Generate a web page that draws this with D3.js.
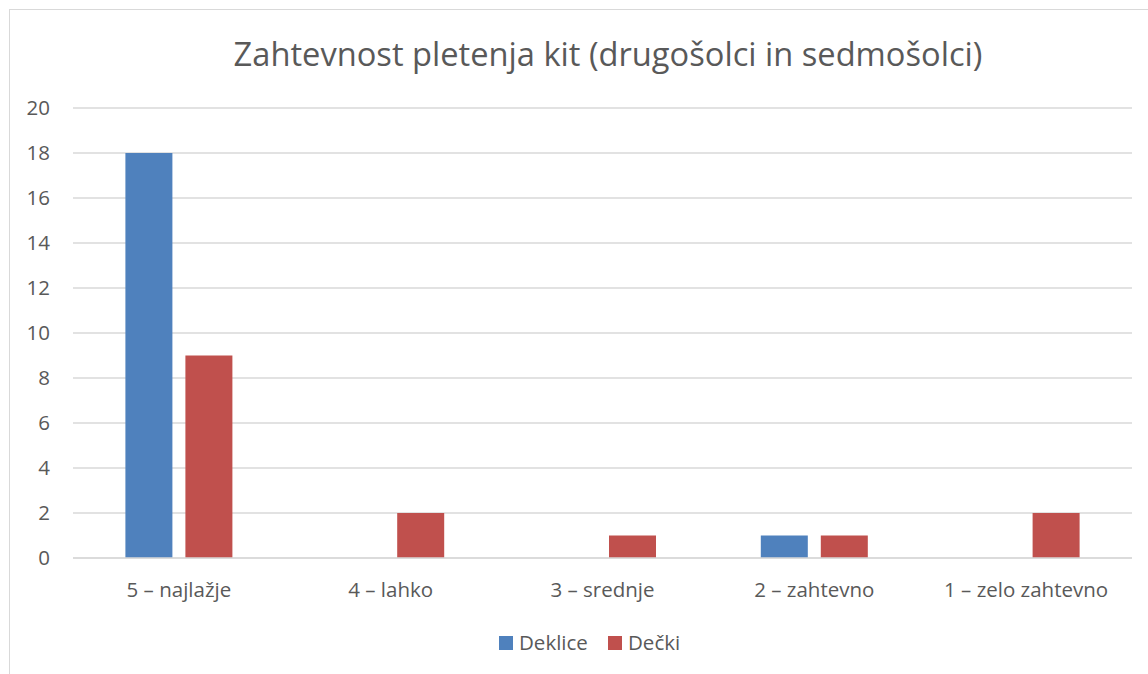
<!DOCTYPE html>
<html>
<head>
<meta charset="utf-8">
<script src="https://cdn.jsdelivr.net/npm/d3@7"></script>
<style>
  body { margin: 0; background: #fff; }
  svg { display: block; font-family: "Open Sans", "Noto Sans", sans-serif; }
</style>
</head>
<body>
<svg id="chart" width="1148" height="674"></svg>
<script>
// chart data
var categories = ['5 – najlažje', '4 – lahko', '3 – srednje', '2 – zahtevno', '1 – zelo zahtevno'];
var seriesNames = ['Deklice', 'Dečki'];
var deklice = [18, 0, 0, 1, 0];
var decki = [9, 2, 1, 1, 2];
var yTicks = [0, 2, 4, 6, 8, 10, 12, 14, 16, 18, 20];

var colors = ['#4F81BD', '#C0504D'];
var textColor = '#595959';
var labelSize = '20.5px';

var svg = d3.select('#chart');

// outer chart border
svg.append('rect')
    .attr('x', 9.5).attr('y', 9.5)
    .attr('width', 1160).attr('height', 700)
    .attr('fill', 'none')
    .attr('stroke', '#D9D9D9');

var margin = { left: 73, right: 1132, top: 108, bottom: 558 };

var x = d3.scaleBand()
    .domain(categories)
    .range([margin.left, margin.right]);

var y = d3.scaleLinear()
    .domain([0, 20])
    .range([margin.bottom, margin.top]);

// gridlines
svg.append('g')
    .selectAll('line')
    .data(yTicks)
    .enter()
    .append('line')
    .attr('x1', margin.left)
    .attr('x2', margin.right)
    .attr('y1', function (d) { return y(d); })
    .attr('y2', function (d) { return y(d); })
    .attr('stroke', '#D9D9D9')
    .attr('stroke-width', 1.5);

// y tick labels
svg.append('g')
    .selectAll('text')
    .data(yTicks)
    .enter()
    .append('text')
    .attr('x', 50)
    .attr('y', function (d) { return y(d); })
    .attr('dy', '0.36em')
    .attr('text-anchor', 'end')
    .attr('fill', textColor)
    .style('font-size', labelSize)
    .text(function (d) { return d; });

// bars
var barW = 47, gap = 13;
var rows = categories.map(function (c, i) {
    return { cat: c, values: [deklice[i], decki[i]] };
});

var groups = svg.append('g')
    .selectAll('g')
    .data(rows)
    .enter()
    .append('g');

groups.selectAll('rect')
    .data(function (d) {
        return d.values.map(function (v, j) { return { cat: d.cat, v: v, j: j }; });
    })
    .enter()
    .filter(function (d) { return d.v > 0; })
    .append('rect')
    .attr('x', function (d) {
        var c = x(d.cat) + x.bandwidth() / 2;
        return d.j === 0 ? c - gap / 2 - barW : c + gap / 2;
    })
    .attr('y', function (d) { return y(d.v); })
    .attr('width', barW)
    .attr('height', function (d) { return y(0) - y(d.v); })
    .attr('fill', function (d) { return colors[d.j]; });

// redraw baseline on top
svg.append('line')
    .attr('x1', margin.left).attr('x2', margin.right)
    .attr('y1', y(0)).attr('y2', y(0))
    .attr('stroke', '#D9D9D9').attr('stroke-width', 1.5);

// x labels
svg.append('g')
    .selectAll('text')
    .data(categories)
    .enter()
    .append('text')
    .attr('x', function (d) { return x(d) + x.bandwidth() / 2; })
    .attr('y', 597)
    .attr('text-anchor', 'middle')
    .attr('fill', textColor)
    .style('font-size', labelSize)
    .text(function (d) { return d; });

// title, fit to the reference width
var title = svg.append('text')
    .attr('x', 608)
    .attr('y', 66)
    .attr('text-anchor', 'middle')
    .attr('fill', textColor)
    .style('font-size', '32px')
    .text('Zahtevnost pletenja kit (drugošolci in sedmošolci)');
var tw = title.node().getComputedTextLength();
title.style('font-size', (32 * 749 / tw) + 'px');

// legend
var legendX = [499, 608];
var legend = svg.append('g')
    .selectAll('g')
    .data(seriesNames)
    .enter()
    .append('g')
    .attr('transform', function (d, i) { return 'translate(' + legendX[i] + ',636)'; });

legend.append('rect')
    .attr('width', 14).attr('height', 14)
    .attr('fill', function (d, i) { return colors[i]; });

legend.append('text')
    .attr('x', 20)
    .attr('y', 14)
    .attr('fill', textColor)
    .style('font-size', labelSize)
    .text(function (d) { return d; });
</script>
</body>
</html>
